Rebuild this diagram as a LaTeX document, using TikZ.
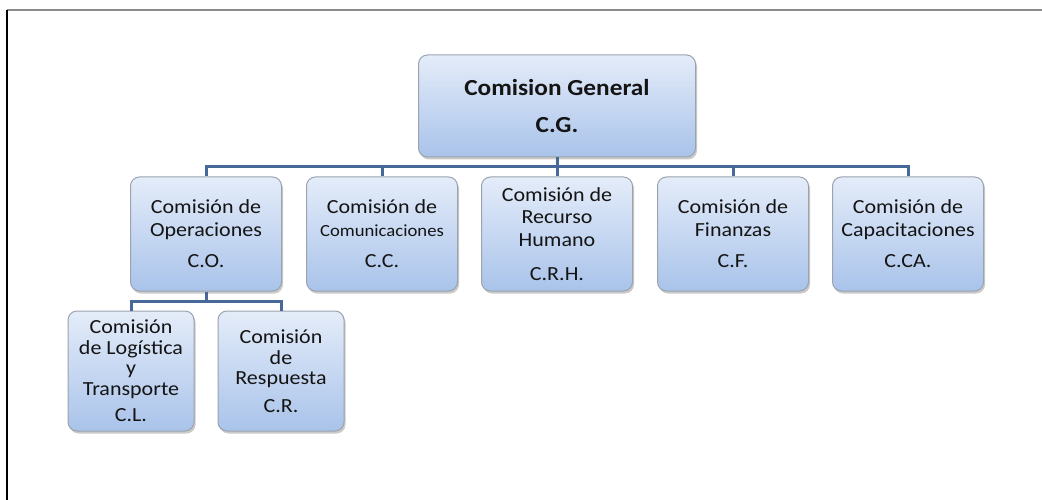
\documentclass[tikz,border=0pt]{standalone}
\usepackage{fontspec}
\setmainfont{Carlito}[FakeStretch=1.1]
\usetikzlibrary{shadows}
\definecolor{boxtop}{HTML}{E4ECF9}
\definecolor{boxbot}{HTML}{A9C3EA}
\definecolor{boxline}{HTML}{9AA3AE}
\definecolor{conn}{HTML}{46699A}
\definecolor{txt}{HTML}{141414}
\tikzset{
  unit/.style={rounded corners=9pt, draw=boxline, line width=1pt,
    top color=boxtop, bottom color=boxbot, align=center, text=txt,
    inner sep=0pt,
    drop shadow={shadow xshift=1.5pt, shadow yshift=-2.5pt, fill=black!35, opacity=0.6}},
  lvltwo/.style={unit, minimum width=151pt, minimum height=114pt,
    font=\fontsize{20}{22.5}\selectfont},
  lvlthree/.style={unit, minimum width=126pt, minimum height=120pt,
    font=\fontsize{20}{20.5}\selectfont},
  link/.style={draw=conn, line width=3pt}
}
\begin{document}
\begin{tikzpicture}[x=1pt,y=-1pt]
\useasboundingbox (0,0) rectangle (1042,500);
\draw[draw=gray!90, line width=2pt] (7,10) -- (1042,10);
\draw[draw=black, line width=2pt] (7,10) -- (7,500);

\node[unit, minimum width=277pt, minimum height=102pt,
  font=\bfseries\fontsize{23}{37}\selectfont] (cg) at (557,106)
  {Comision General\\C.G.};

\node[lvltwo] (co) at (206,234) {Comisión de\\Operaciones\\[9pt]C.O.};
\node[lvltwo] (cc) at (382,234) {Comisión de\\{\fontsize{17}{22}\selectfont Comunicaciones}\\[9pt]C.C.};
\node[lvltwo] (crh) at (557,234) {Comisión de\\Recurso\\Humano\\[12pt]C.R.H.};
\node[lvltwo] (cf) at (733,234) {Comisión de\\Finanzas\\[9pt]C.F.};
\node[lvltwo] (cca) at (908,234) {Comisión de\\Capacitaciones\\[9pt]C.CA.};

\node[lvlthree] (cl) at (131,371) {Comisión\\de Logística\\y\\Transporte\\[6pt]C.L.};
\node[lvlthree] (cr) at (281,371) {Comisión\\de\\Respuesta\\[7pt]C.R.};

\coordinate (bus) at (557,167);
\coordinate (bus2) at (206,301);
\draw[link] (cg.south) -- (bus);
\draw[link] (co.north) |- (bus) -| (cca.north);
\draw[link] (cc.north) -- (cc.north |- bus);
\draw[link] (crh.north) -- (bus);
\draw[link] (cf.north) -- (cf.north |- bus);
\draw[link] (co.south) -- (bus2);
\draw[link] (cl.north) |- (bus2) -| (cr.north);
\end{tikzpicture}
\end{document}
